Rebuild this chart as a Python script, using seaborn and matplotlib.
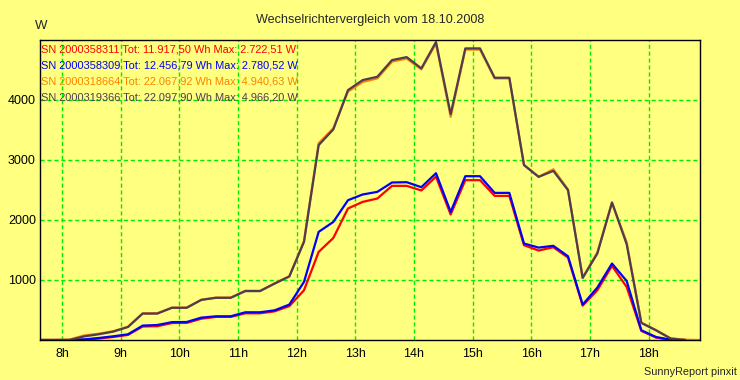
import matplotlib
matplotlib.use("Agg")
import pandas as pd
import matplotlib.pyplot as plt
import seaborn as sns

# quarter-hour sample times (decimal hours)
times = [7.625, 7.875, 8.125, 8.375, 8.625, 8.875, 9.125, 9.375, 9.625, 9.875,
         10.125, 10.375, 10.625, 10.875, 11.125, 11.375, 11.625, 11.875, 12.125, 12.375,
         12.625, 12.875, 13.125, 13.375, 13.625, 13.875, 14.125, 14.375, 14.625, 14.875,
         15.125, 15.375, 15.625, 15.875, 16.125, 16.375, 16.625, 16.875, 17.125, 17.375,
         17.625, 17.875, 18.125, 18.375, 18.625, 18.875]

serials = ["2000358311", "2000358309", "2000318664", "2000319366"]
totals = ["11.917,50", "12.456,79", "22.067,92", "22.097,90"]
maxima = ["2.722,51", "2.780,52", "4.940,63", "4.966,20"]
colors = ["#ff0000", "#0000ff", "#ff8000", "#4e3c52"]

power_311 = [0, 0, 0, 5, 25, 50, 85, 225, 230, 283,
             285, 355, 385, 385, 445, 445, 478, 565, 829, 1468,
             1701, 2192, 2302, 2358, 2569, 2569, 2492, 2722, 2092, 2664,
             2664, 2402, 2402, 1580, 1491, 1546, 1374, 573, 829, 1235,
             884, 152, 40, 3, 0]
power_309 = [0, 0, 0, 10, 33, 62, 95, 240, 250, 298,
             300, 373, 395, 395, 462, 462, 495, 590, 968, 1802,
             1968, 2330, 2425, 2469, 2625, 2630, 2547, 2780, 2135, 2730,
             2730, 2452, 2452, 1608, 1540, 1570, 1396, 590, 874, 1274,
             984, 162, 50, 5, 0]
power_664 = [0, 0, 5, 75, 105, 148, 222, 445, 448, 540,
             540, 672, 708, 708, 822, 820, 945, 1060, 1650, 3280,
             3530, 4140, 4300, 4360, 4640, 4690, 4510, 4940, 3720, 4840,
             4840, 4360, 4360, 2920, 2720, 2845, 2510, 1040, 1460, 2290,
             1630, 290, 165, 30, 5, 0]
power_366 = [0, 0, 0, 60, 95, 140, 217, 440, 440, 537,
             537, 668, 703, 703, 815, 815, 940, 1060, 1635, 3248,
             3510, 4165, 4332, 4387, 4665, 4715, 4527, 4966, 3765, 4860,
             4860, 4371, 4371, 2914, 2719, 2819, 2497, 1034, 1441, 2292,
             1596, 284, 162, 23, 0]

series = [power_311, power_309, power_664, power_366]

bg = "#ffff80"
sns.set_style("white", rc={"axes.facecolor": bg, "figure.facecolor": bg,
                           "axes.edgecolor": "black"})
plt.rcParams["font.family"] = ["Liberation Sans", "DejaVu Sans"]

fig = plt.figure(figsize=(7.4, 3.8), dpi=100)
ax = fig.add_axes([40 / 740, 40 / 380, 660 / 740, 300 / 380])

for vals, col in zip(series, colors):
    df = pd.DataFrame({"time": times[:len(vals)], "power": vals})
    sns.lineplot(data=df, x="time", y="power", color=col, linewidth=1.6,
                 sort=False, ax=ax)

ax.set_xlim(times[0], times[-1])
ax.set_ylim(0, 5000)
ax.set_xticks(range(8, 19))
ax.set_xticklabels([f"{h}h" for h in range(8, 19)])
ax.set_yticks([1000, 2000, 3000, 4000])
ax.set_yticklabels(["1000", "2000", "3000", "4000"])
ax.tick_params(axis="y", length=0, labelsize=9, pad=3, colors="black")
ax.tick_params(axis="x", length=0, labelsize=9, pad=6, colors="black")
ax.set_xlabel("")
ax.set_ylabel("")
ax.grid(True, color="#00ee00", linestyle=(0, (3, 2)), linewidth=1)
ax.set_axisbelow(True)
for s in ax.spines.values():
    s.set_linewidth(1)
    s.set_color("black")

# legend lines written as text inside the plot
for i, (sn, tot, mx, col) in enumerate(zip(serials, totals, maxima, colors)):
    fig.text(41 / 740, 1 - (49 + 16 * i) / 380,
             f"SN {sn} Tot: {tot} Wh Max: {mx} W",
             color=col, fontsize=7.9, va="center", ha="left")

fig.text(370 / 740, 1 - 20 / 380, "Wechselrichtervergleich vom 18.10.2008",
         fontsize=9.1, ha="center", va="center")
fig.text(35 / 740, 1 - 26 / 380, "W", fontsize=9.5, ha="left", va="center")
fig.text(737 / 740, 1 - 372 / 380, "SunnyReport pinxit", fontsize=7.8,
         ha="right", va="center")

fig.savefig("out.png", dpi=100, facecolor=bg)
